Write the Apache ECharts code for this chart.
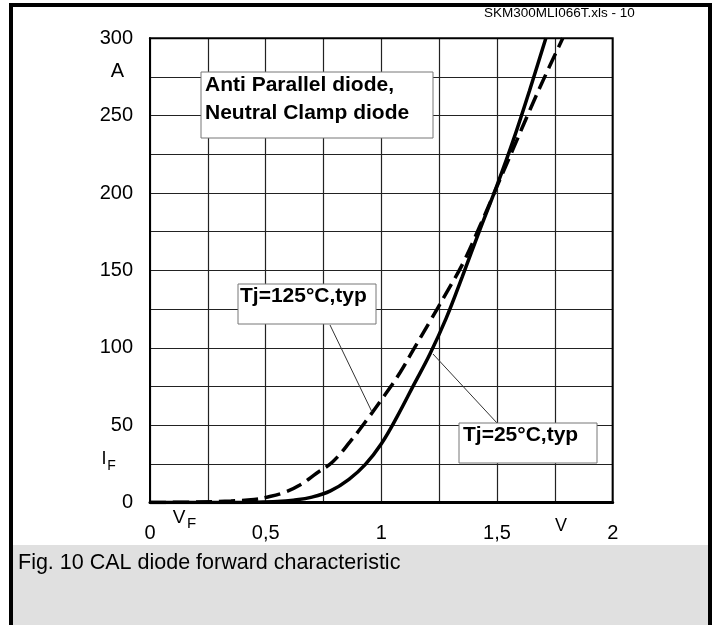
<!DOCTYPE html>
<html>
<head>
<meta charset="utf-8">
<script src="https://cdn.jsdelivr.net/npm/echarts@6/dist/echarts.min.js"></script>
<style>
html,body{margin:0;padding:0;background:#fff;}
#c{width:717px;height:625px;}
</style>
</head>
<body>
<div id="c"></div>
<script>
// ---- data ----
const vf25 = [0, 0.30, 0.45, 0.55, 0.62, 0.70, 0.78, 0.86, 0.93, 1.00, 1.07, 1.14, 1.21, 1.28, 1.35, 1.42, 1.50, 1.57, 1.64, 1.711];
const if25 = [0, 0.05, 0.2, 0.6, 1.5, 3.5, 7.5, 15, 24.5, 38, 56, 76, 96, 119, 146, 174, 205, 234, 266, 300];
const vf125 = [0, 0.20, 0.35, 0.45, 0.504, 0.58, 0.648, 0.72, 0.79, 0.865, 0.937, 1.008, 1.081, 1.138, 1.21, 1.283, 1.354, 1.427, 1.499, 1.571, 1.643, 1.715, 1.784];
const if125 = [0, 0.3, 1, 2, 3.4, 6.5, 11.3, 18.9, 26.4, 39.3, 53.3, 68, 84, 98.6, 117, 136, 155, 179, 204, 229, 254, 278, 300];
const xTickValues = [0, 0.5, 1, 1.5, 2];
const xTickLabels = ['0', '0,5', '1', '1,5', '2'];
const yTickValues = [0, 50, 100, 150, 200, 250, 300];
const yTickLabels = ['0', '50', '100', '150', '200', '250', '300'];
const headerText = 'SKM300MLI066T.xls - 10';
const captionText = 'Fig. 10 CAL diode forward characteristic';
const boxText1 = ['Anti Parallel diode,', 'Neutral Clamp diode'];
const label125 = 'Tj=125°C,typ';
const label25 = 'Tj=25°C,typ';

const FONT = '"Liberation Sans", Arial, Helvetica, sans-serif';
function lookup(vals, labels, v) {
  for (let i = 0; i < vals.length; i++) if (Math.abs(vals[i] - v) < 1e-6) return labels[i];
  return '';
}
const chart = echarts.init(document.getElementById('c'), null, {renderer: 'canvas'});
const option = {
  backgroundColor: '#fff',
  animation: false,
  grid: {left: 150, top: 38.3, right: 104.3, bottom: 122.5, show: true, borderColor: '#000', borderWidth: 2, z: 3},
  xAxis: {
    type: 'value', min: 0, max: 2, interval: 0.25,
    axisLine: {show: true, onZero: false, lineStyle: {color: '#000', width: 3}},
    axisTick: {show: false},
    axisLabel: {formatter: v => lookup(xTickValues, xTickLabels, v), fontSize: 20, color: '#000', fontFamily: FONT, margin: 21, showMinLabel: true, showMaxLabel: true},
    splitLine: {show: true, lineStyle: {color: '#222', width: 1.2}}
  },
  yAxis: {
    type: 'value', min: 0, max: 300, interval: 25,
    axisLine: {show: true, onZero: false, lineStyle: {color: '#000', width: 2}},
    axisTick: {show: false},
    axisLabel: {formatter: v => lookup(yTickValues, yTickLabels, v), fontSize: 20, color: '#000', fontFamily: FONT, margin: 17, showMinLabel: true, showMaxLabel: true},
    splitLine: {show: true, lineStyle: {color: '#222', width: 1.2}}
  },
  series: [
    {type: 'line', name: '25', data: vf25.map((v, i) => [v, if25[i]]), smooth: 0.4, showSymbol: false, symbol: 'none',
     lineStyle: {color: '#000', width: 3.5}, z: 5},
    {type: 'line', name: '125', data: vf125.map((v, i) => [v, if125[i]]), smooth: 0.4, showSymbol: false, symbol: 'none',
     lineStyle: {color: '#000', width: 3.5, type: [16, 7]}, z: 5}
  ],
  graphic: [
    {type: 'rect', z: 0, shape: {x: 13, y: 545, width: 695, height: 82}, style: {fill: '#e0e0e0'}},
    {type: 'rect', z: 100, shape: {x: 11, y: 5, width: 699, height: 640}, style: {fill: null, stroke: '#000', lineWidth: 4}},
    {type: 'text', z: 100, style: {text: headerText, x: 484, y: 13, font: '13.5px ' + FONT, fill: '#000', verticalAlign: 'middle', align: 'left'}},
    {type: 'text', z: 100, style: {text: captionText, x: 18, y: 563, font: '21.5px ' + FONT, fill: '#000', verticalAlign: 'middle', align: 'left'}},
    {type: 'text', z: 100, style: {text: 'A', x: 117.5, y: 71, font: '20px ' + FONT, fill: '#000', verticalAlign: 'middle', align: 'center'}},
    {type: 'text', z: 100, style: {text: 'I', x: 104, y: 459, font: '18px ' + FONT, fill: '#000', verticalAlign: 'middle', align: 'center'}},
    {type: 'text', z: 100, style: {text: 'F', x: 111.5, y: 466, font: '14px ' + FONT, fill: '#000', verticalAlign: 'middle', align: 'center'}},
    {type: 'text', z: 100, style: {text: 'V', x: 179, y: 517.5, font: '19px ' + FONT, fill: '#000', verticalAlign: 'middle', align: 'center'}},
    {type: 'text', z: 100, style: {text: 'F', x: 191.5, y: 524, font: '15px ' + FONT, fill: '#000', verticalAlign: 'middle', align: 'center'}},
    {type: 'text', z: 100, style: {text: 'V', x: 561, y: 526, font: '18px ' + FONT, fill: '#000', verticalAlign: 'middle', align: 'center'}},
    // annotation box 1
    {type: 'rect', z: 50, shape: {x: 201, y: 72, width: 232, height: 66}, style: {fill: '#fff', stroke: '#777', lineWidth: 1}},
    {type: 'text', z: 51, style: {text: boxText1[0], x: 205, y: 85, font: 'bold 21px ' + FONT, fill: '#000', verticalAlign: 'middle', align: 'left'}},
    {type: 'text', z: 51, style: {text: boxText1[1], x: 205, y: 113.5, font: 'bold 21px ' + FONT, fill: '#000', verticalAlign: 'middle', align: 'left'}},
    // annotation box 2
    {type: 'line', z: 49, shape: {x1: 330, y1: 325, x2: 372, y2: 412}, style: {stroke: '#333', lineWidth: 1}},
    {type: 'rect', z: 50, shape: {x: 238, y: 284, width: 138, height: 40}, style: {fill: '#fff', stroke: '#777', lineWidth: 1}},
    {type: 'text', z: 51, style: {text: label125, x: 240, y: 296, font: 'bold 21px ' + FONT, fill: '#000', verticalAlign: 'middle', align: 'left'}},
    // annotation box 3
    {type: 'line', z: 49, shape: {x1: 497, y1: 423, x2: 433, y2: 354}, style: {stroke: '#333', lineWidth: 1}},
    {type: 'rect', z: 50, shape: {x: 459, y: 423, width: 138, height: 40}, style: {fill: '#fff', stroke: '#777', lineWidth: 1}},
    {type: 'text', z: 51, style: {text: label25, x: 463, y: 435, font: 'bold 21px ' + FONT, fill: '#000', verticalAlign: 'middle', align: 'left'}}
  ]
};
chart.setOption(option);
</script>
</body>
</html>
